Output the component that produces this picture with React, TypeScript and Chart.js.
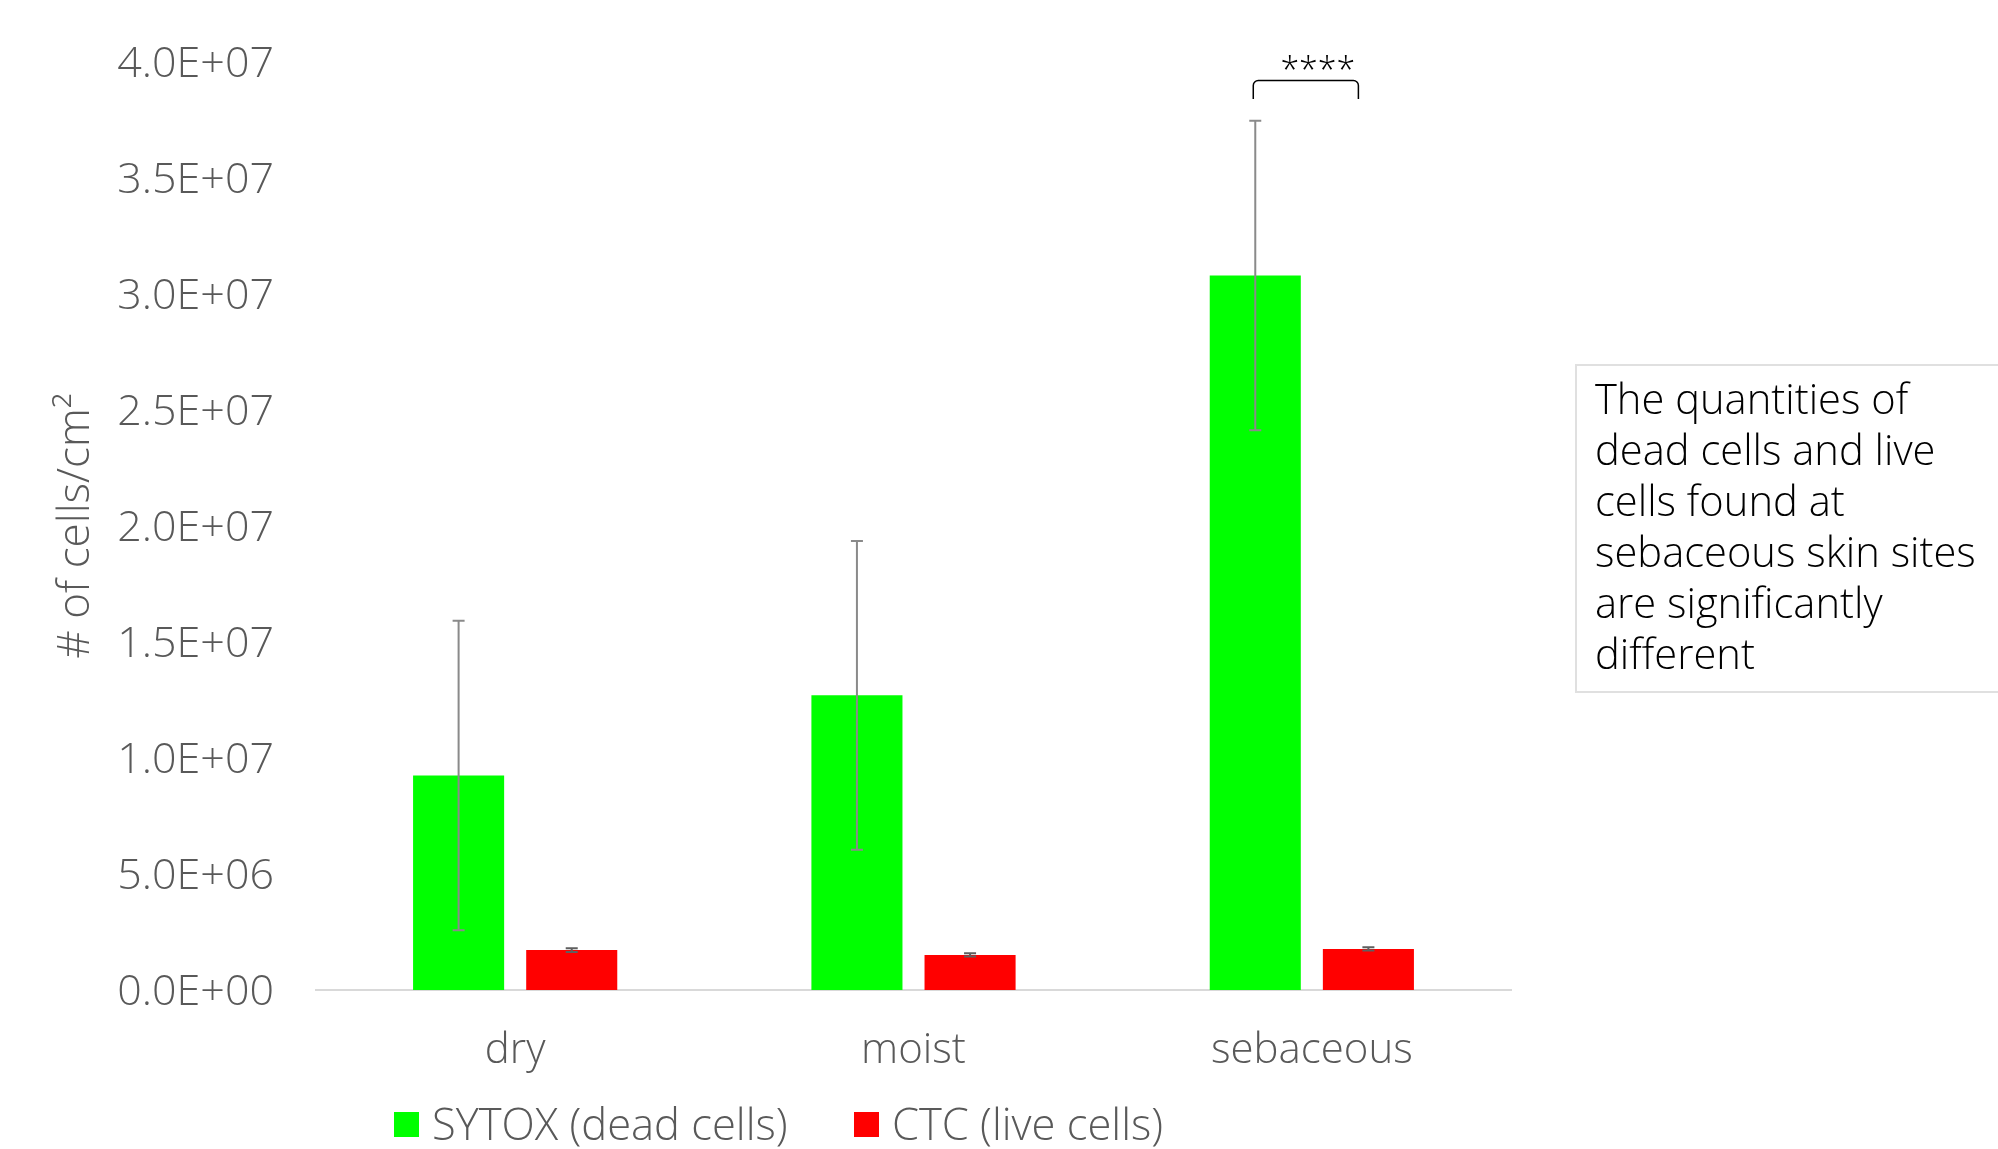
import React, { useEffect, useRef } from "react";
import { Chart, registerables } from "chart.js";

Chart.register(...registerables);

// ---------- data ----------
const categories = ["dry", "moist", "sebaceous"];
const seriesLabels = ["SYTOX (dead cells)", "CTC (live cells)"];
const sytoxValues = [9.25e6, 1.27e7, 3.08e7];
const sytoxErrors = [6.67e6, 6.65e6, 6.67e6];
const ctcValues = [1.72e6, 1.51e6, 1.77e6];
const ctcErrors = [0.08e6, 0.07e6, 0.07e6];
const yMin = 0;
const yMax = 4e7;
const yStep = 5e6;
const yAxisTitle = "# of cells/cm\u00B2";
const sigLabel = "****";
const sigCategoryIndex = 2;
const sigBracketTopValue = 3.92e7;
const sigBracketLegValue = 3.84e7;
const sigLabelValue = 3.99e7;
const noteLines = [
  "The quantities of",
  "dead cells and live",
  "cells found at",
  "sebaceous skin sites",
  "are significantly",
  "different",
];

// ---------- styles ----------
const FONT = '"Open Sans", "Segoe UI", sans-serif';
const GRAY_TEXT = "#595959";
const GREEN = "#00ff00";
const RED = "#ff0000";
const errorColors = ["#8a8a8a", "#5f5f5f"];
const errorsByDataset = [sytoxErrors, ctcErrors];

function sci(v: number): string {
  if (v === 0) return "0.0E+00";
  const e = Math.floor(Math.log10(Math.abs(v)) + 1e-9);
  const m = v / Math.pow(10, e);
  return m.toFixed(1) + "E" + (e < 0 ? "-" : "+") + String(Math.abs(e)).padStart(2, "0");
}

const errorBarPlugin = {
  id: "errorBars",
  afterDatasetsDraw(chart: any) {
    const ctx = chart.ctx;
    const y = chart.scales.y;
    chart.data.datasets.forEach((ds: any, di: number) => {
      const meta = chart.getDatasetMeta(di);
      const errs = errorsByDataset[di];
      meta.data.forEach((bar: any, i: number) => {
        const v = ds.data[i] as number;
        const e = errs[i];
        const top = y.getPixelForValue(v + e);
        const bot = y.getPixelForValue(v - e);
        ctx.save();
        ctx.strokeStyle = errorColors[di];
        ctx.lineWidth = 2;
        ctx.beginPath();
        ctx.moveTo(bar.x, top);
        ctx.lineTo(bar.x, bot);
        ctx.moveTo(bar.x - 6, top);
        ctx.lineTo(bar.x + 6, top);
        ctx.moveTo(bar.x - 6, bot);
        ctx.lineTo(bar.x + 6, bot);
        ctx.stroke();
        ctx.restore();
      });
    });
  },
};

const significancePlugin = {
  id: "significance",
  afterDatasetsDraw(chart: any) {
    const ctx = chart.ctx;
    const y = chart.scales.y;
    const g = chart.getDatasetMeta(0).data[sigCategoryIndex];
    const r = chart.getDatasetMeta(1).data[sigCategoryIndex];
    if (!g || !r) return;
    const left = g.x - 2;
    const right = r.x - 10;
    const top = y.getPixelForValue(sigBracketTopValue);
    const leg = y.getPixelForValue(sigBracketLegValue);
    const rad = 5;
    ctx.save();
    ctx.strokeStyle = "#000";
    ctx.lineWidth = 1.5;
    ctx.beginPath();
    ctx.moveTo(left, leg);
    ctx.arcTo(left, top, left + rad, top, rad);
    ctx.lineTo(right - rad, top);
    ctx.arcTo(right, top, right, top + rad, rad);
    ctx.lineTo(right, leg);
    ctx.stroke();
    ctx.fillStyle = "#000";
    ctx.font = `300 34px ${FONT}`;
    ctx.textAlign = "center";
    ctx.textBaseline = "middle";
    ctx.fillText(sigLabel, (left + right) / 2 + 12, y.getPixelForValue(sigLabelValue) + 8);
    ctx.restore();
  },
};

export default function App() {
  const ref = useRef<HTMLCanvasElement>(null);

  useEffect(() => {
    let chart: Chart | null = null;
    let cancelled = false;
    const make = () => {
      if (cancelled || !ref.current) return;
      chart = new Chart(ref.current, {
        type: "bar",
        data: {
          labels: categories,
          datasets: [
            {
              label: seriesLabels[0],
              data: sytoxValues,
              backgroundColor: GREEN,
              borderWidth: 0,
              barPercentage: 0.805,
              categoryPercentage: 0.568,
            },
            {
              label: seriesLabels[1],
              data: ctcValues,
              backgroundColor: RED,
              borderWidth: 0,
              barPercentage: 0.805,
              categoryPercentage: 0.568,
            },
          ],
        },
        options: {
          responsive: false,
          animation: false,
          devicePixelRatio: 1,
          layout: { padding: { top: 62, right: 487, bottom: 0, left: 0 } },
          plugins: {
            legend: { display: false },
            tooltip: { enabled: false },
          },
          scales: {
            x: {
              grid: { display: false, drawTicks: false },
              border: { display: true, color: "#d9d9d9", width: 2 },
              ticks: {
                color: GRAY_TEXT,
                font: { family: FONT, size: 42, weight: "300" },
                padding: 36,
              },
              afterFit: (s: any) => {
                s.height = 159;
                s.paddingLeft = 0;
                s.paddingRight = 0;
              },
            },
            y: {
              min: yMin,
              max: yMax,
              grid: { display: false, drawTicks: false },
              border: { display: false },
              ticks: {
                stepSize: yStep,
                callback: (v: any) => sci(Number(v)),
                color: GRAY_TEXT,
                font: { family: FONT, size: 43, weight: "300" },
                padding: 42,
                labelOffset: 3,
              },
              title: {
                display: true,
                text: yAxisTitle,
                color: GRAY_TEXT,
                font: { family: FONT, size: 44, weight: "300" },
                padding: { top: 50, bottom: 0 },
              },
              afterFit: (s: any) => {
                s.width = 316;
                s.paddingTop = 0;
                s.paddingBottom = 0;
              },
            },
          },
        },
        plugins: [errorBarPlugin, significancePlugin],
      } as any);
    };
    const fonts = (document as any).fonts;
    if (fonts && fonts.load) {
      Promise.all([
        fonts.load(`300 40px "Open Sans"`),
        fonts.load(`400 40px "Open Sans"`),
      ]).then(make, make);
    } else {
      make();
    }
    return () => {
      cancelled = true;
      if (chart) chart.destroy();
    };
  }, []);

  const legendText: React.CSSProperties = {
    fontFamily: FONT,
    fontWeight: 300,
    fontSize: 43.5,
    lineHeight: "50px",
    color: GRAY_TEXT,
    whiteSpace: "nowrap",
  };

  return (
    <div
      style={{
        position: "fixed",
        left: 0,
        top: 0,
        width: 1998,
        height: 1149,
        overflow: "hidden",
        background: "#ffffff",
      }}
    >
      <canvas
        ref={ref}
        width={1998}
        height={1149}
        style={{ position: "absolute", left: 0, top: 0, display: "block" }}
      />
      {/* legend */}
      {[0, 1].map((i) => (
        <div
          key={i}
          style={{
            position: "absolute",
            left: i === 0 ? 394 : 854,
            top: 1099,
            display: "flex",
            alignItems: "center",
            height: 50,
          }}
        >
          <span
            style={{
              display: "inline-block",
              width: 25,
              height: 25,
              background: i === 0 ? GREEN : RED,
              marginRight: 13,
            }}
          />
          <span style={legendText}>{seriesLabels[i]}</span>
        </div>
      ))}
      {/* note box */}
      <div
        style={{
          position: "absolute",
          left: 1575,
          top: 364,
          width: 460,
          height: 329,
          boxSizing: "border-box",
          border: "2px solid #e0e0e0",
          padding: "6px 0 0 18px",
          fontFamily: FONT,
          fontWeight: 300,
          fontSize: 41.7,
          lineHeight: "51px",
          color: "#000",
        }}
      >
        {noteLines.map((l, i) => (
          <div key={i} style={{ whiteSpace: "nowrap" }}>
            {l}
          </div>
        ))}
      </div>
    </div>
  );
}
